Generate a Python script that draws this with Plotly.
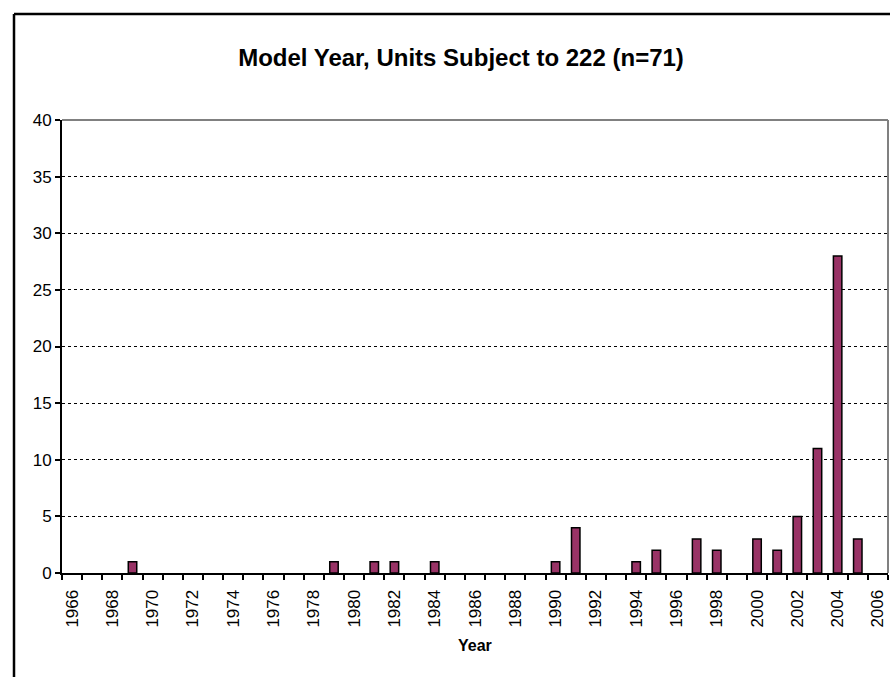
import plotly.graph_objects as go

# Model year counts for units subject to 222
years = [1969, 1979, 1981, 1982, 1984, 1990, 1991, 1994, 1995, 1997, 1998,
         2000, 2001, 2002, 2003, 2004, 2005]
units = [1, 1, 1, 1, 1, 1, 4, 1, 2, 3, 2, 3, 2, 5, 11, 28, 3]

year_ticks = list(range(1966, 2007, 2))
year_labels = [str(y) for y in year_ticks]
y_ticks = [0, 5, 10, 15, 20, 25, 30, 35, 40]

W, H = 890, 677
L, R, T, B = 62, 2, 120, 104
plot_w = W - L - R
plot_h = H - T - B

FONT = "Arial, Liberation Sans, sans-serif"

fig = go.Figure()
fig.add_trace(go.Bar(
    x=years, y=units, width=0.42,
    marker=dict(color="#993366", line=dict(color="black", width=1.5)),
))


def px_x(px):
    return (px - L) / plot_w


def px_y(py):
    return (H - B - py) / plot_h


fig.update_layout(
    width=W, height=H,
    margin=dict(l=L, r=R, t=T, b=B),
    plot_bgcolor="white", paper_bgcolor="white",
    showlegend=False,
    font=dict(family=FONT, color="black", size=17),
    title=dict(
        text="<b>Model Year, Units Subject to 222 (n=71)</b>",
        font=dict(family=FONT, size=24, color="black"),
        x=461 / W, xref="container", xanchor="center",
        y=1 - 58 / H, yref="container", yanchor="middle",
    ),
    xaxis=dict(
        range=[1965.5, 2006.5],
        tickmode="array", tickvals=year_ticks, ticktext=year_labels,
        tickangle=-90, ticks="outside", ticklen=0,
        ticklabelstandoff=8,
        tickfont=dict(family=FONT, size=17, color="black"),
        minor=dict(tick0=1965.5, dtick=1, ticks="outside", ticklen=5,
                   tickcolor="black", tickwidth=2, showgrid=False),
        showline=True, linecolor="black", linewidth=2,
        showgrid=False, zeroline=False,
    ),
    yaxis=dict(
        range=[0, 40], tickmode="array", tickvals=y_ticks,
        ticks="outside", ticklen=5, tickcolor="black", tickwidth=2,
        tickfont=dict(family=FONT, size=17, color="black"),
        showline=True, linecolor="black", linewidth=2,
        showgrid=True, gridcolor="black", gridwidth=1, griddash="dot",
        zeroline=False,
    ),
    annotations=[dict(
        text="<b>Year</b>", x=0.5, xref="paper", y=px_y(645), yref="paper",
        xanchor="center", yanchor="middle", showarrow=False,
        font=dict(family=FONT, size=16, color="black"),
    )],
    shapes=[
        # plot-area frame (top and right edges in grey)
        dict(type="line", xref="paper", yref="paper", x0=0, x1=1, y0=1, y1=1,
             line=dict(color="#808080", width=2), layer="below"),
        dict(type="line", xref="paper", yref="paper", x0=1, x1=1, y0=0, y1=1,
             line=dict(color="#808080", width=2), layer="below"),
        # outer chart border
        dict(type="line", xref="paper", yref="paper",
             x0=px_x(14), x1=px_x(W + 10), y0=px_y(14), y1=px_y(14),
             line=dict(color="black", width=2.5)),
        dict(type="line", xref="paper", yref="paper",
             x0=px_x(14), x1=px_x(14), y0=px_y(14), y1=px_y(H + 10),
             line=dict(color="black", width=2.5)),
    ],
)

fig.write_html("out.html")
